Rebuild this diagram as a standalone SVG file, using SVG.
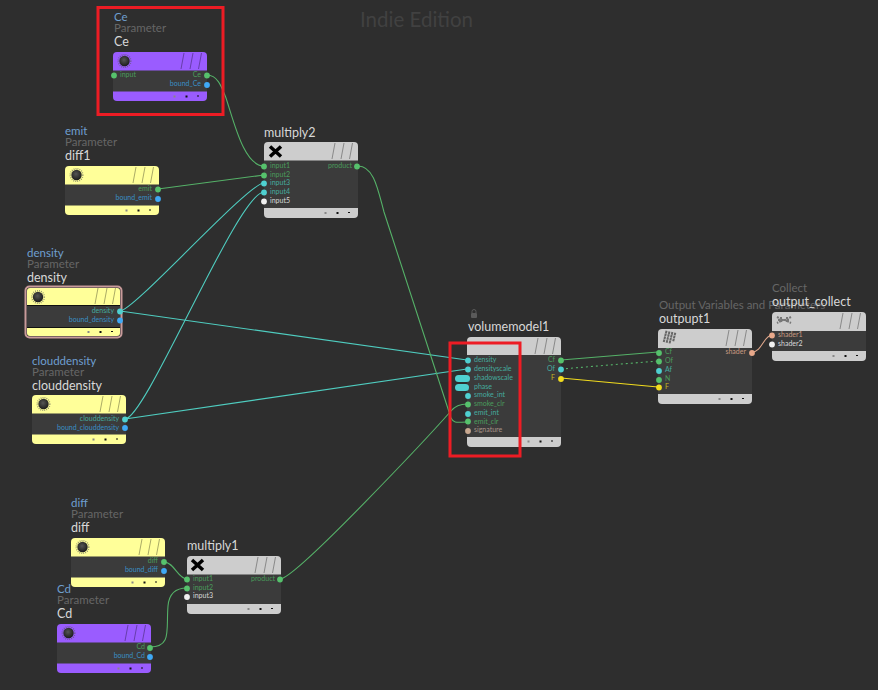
<svg xmlns="http://www.w3.org/2000/svg" width="878" height="690" viewBox="0 0 878 690">
<style>
text{font-family:"Lato","Noto Sans","Liberation Sans",sans-serif}
.bg{fill:#2e2e2e}
.wm{font-size:20.500px;fill:#414141;text-anchor:middle}
.t{font-size:11.500px;fill:#6f9fd0}
.s{font-size:11.500px;fill:#666}
.n{font-size:12.500px;fill:#d8d8d8}
.p{font-size:7px}
.e{text-anchor:end}
.body{fill:#3b3b3b}
.gl{stroke:#000;stroke-opacity:.42;stroke-width:.8;fill:none}
.w{stroke:#55b168;fill:none;stroke-width:1.100}
.c{stroke:#4fcdc0;fill:none;stroke-width:1.100}
.g{fill:#56c16c}.gt{fill:#4a9c5c}
.cy{fill:#4fd0d0}.cyt{fill:#45ab9f}
.b{fill:#3fa9f5}.bt{fill:#3a8fc4}
.wh{fill:#f0f0f0}.wt{fill:#d8d8d8}
.d1{fill:#888}.d2{fill:#111}
.red{fill:none;stroke:#ed1c24;stroke-width:3}
circle[class],circle[fill^="#"]{r:2.900px}
</style>
<defs>
<g id="lines"><path class="gl" d="M71 1l-3 16M80 1l-3 16M88.500 1l-3 16"/></g>
<g id="dots"><rect class="d1" x="60.500" y="-.5" width="2" height="2"/><rect class="d2" x="72.500" y="-.5" width="2" height="2"/><rect class="d2" x="84" y="-.5" width="2" height="1"/></g>
<radialGradient id="kg" cx=".45" cy=".4" r=".6"><stop offset="0" stop-color="#555"/><stop offset="1" stop-color="#1c1c1c"/></radialGradient>
<g id="knob"><ellipse rx="6.300" ry="6.300" fill="none" stroke="#555" stroke-width="1.500" stroke-dasharray=".8 1.200" opacity=".7"/><ellipse rx="5.200" ry="5.200" fill="url(#kg)"/></g>
<g id="x"><path d="M-5.500-5L5.500 5M5.500-5L-5.500 5" stroke="#000" stroke-width="3.500"/></g>
<g id="flag"><g transform="rotate(14)" fill="none" stroke="#666" stroke-width="2.600" stroke-dasharray="2 1"><path d="M-6-4.500H6"/><path d="M-6-1.500H6"/><path d="M-6 1.500H6"/><path d="M-6 4.500H2"/></g></g>
<g id="flag2"><g fill="none" stroke="#777" stroke-width="2" stroke-dasharray="2 1"><path d="M-7-3L-1 0L-7 3"/><path d="M7-3L1 0L7 3"/><path d="M-6 0H6"/><path d="M-3-3V3M3-3V3"/></g></g>
<g id="pnode">
<rect width="94" height="49" rx="4" fill="currentColor"/>
<rect y="18.500" width="94" height="21" class="body"/>
<use href="#lines"/>
<use href="#knob" x="11.500" y="9"/>
<use href="#dots" y="44"/>
</g>
</defs>
<rect class="bg" width="878" height="690"/>
<text class="wm" x="416.500" y="27">Indie Edition</text>

<g id="connectors">
<path class="w" d="M207 75C218 75 222 88 226 98C234 122 244 166 264 166"/>
<path class="w" d="M158 189L264 175"/>
<path class="c" d="M120 311C134 311 248 183 264 183"/>
<path class="c" d="M125 419C146 419 238 192 264 192"/>
<path class="c" d="M120 311L467 360"/>
<path class="c" d="M125 419L467 369"/>
<path class="w" d="M358 166C374 166 378 190 384 212L451 418C454 424 458 422 467 422"/>
<path class="w" d="M280 579C296 579 436 428 451 411C455 406 460 404 467 404"/>
<path class="w" d="M164 562C174 562 178 579 187 579"/>
<path class="w" d="M150 647C172 647 166 630 168 606C169 594 176 588 187 588"/>
<path class="w" d="M561 360L658 352"/>
<path class="w" stroke-dasharray="2 3" d="M561 369L658 361"/>
<path stroke="#f2dc1e" stroke-width="1.100" fill="none" d="M561 378L658 387"/>
<path stroke="#e0a88c" stroke-width="1.100" fill="none" d="M752 352C762 352 764 335 772 335"/>
</g>

<g id="node-ce" color="#9a5cff">
<text class="t" x="114" y="21">Ce</text><text class="s" x="114" y="32">Parameter</text><text class="n" x="114" y="46">Ce</text>
<use href="#pnode" x="113" y="52"/>
<text class="p gt" x="120" y="77">input</text><text class="p gt e" x="201" y="77">Ce</text><text class="p bt e" x="201" y="86">bound_Ce</text>
<circle class="g" cx="114" cy="75.500" r="2.900"/><circle class="g" cx="207" cy="75.500" r="2.900"/><circle class="b" cx="207" cy="85" r="2.900"/>
</g>

<g id="node-emit" color="#ffff99">
<text class="t" x="65" y="135">emit</text><text class="s" x="65" y="146">Parameter</text><text class="n" x="65" y="160">diff1</text>
<use href="#pnode" x="65" y="166"/>
<text class="p gt e" x="152" y="191">emit</text><text class="p bt e" x="152" y="200">bound_emit</text>
<circle class="g" cx="158" cy="189.500" r="2.900"/><circle class="b" cx="158" cy="199" r="2.900"/>
</g>

<g id="node-density" color="#ffff99">
<text class="t" x="27" y="257">density</text><text class="s" x="27" y="268">Parameter</text><text class="n" x="27" y="282">density</text>
<rect x="25.500" y="286.500" width="96" height="51" rx="4" fill="none" stroke="#c89a9a" stroke-width="2"/>
<rect x="27" y="288" width="93" height="48" rx="3" fill="#ffff99"/>
<rect x="27" y="305" width="93" height="22" class="body"/>
<path d="M27 305.500H120M27 327.500H120" stroke="#111"/>
<use href="#lines" x="27" y="287"/><use href="#knob" x="38" y="297"/><use href="#dots" x="27" y="331.500"/>
<text class="p cyt e" x="114" y="313">density</text><text class="p bt e" x="114" y="322">bound_density</text>
<circle class="cy" cx="120" cy="311.500" r="2.900"/><circle class="b" cx="120" cy="320.500" r="2.900"/>
</g>

<g id="node-clouddensity" color="#ffff99">
<text class="t" x="32" y="365">clouddensity</text><text class="s" x="32" y="376">Parameter</text><text class="n" x="32" y="390">clouddensity</text>
<use href="#pnode" x="32" y="395"/>
<text class="p cyt e" x="119" y="421">clouddensity</text><text class="p bt e" x="119" y="430">bound_clouddensity</text>
<circle class="cy" cx="125" cy="419.500" r="2.900"/><circle class="b" cx="125" cy="428" r="2.900"/>
</g>

<g id="node-diff" color="#ffff99">
<text class="t" x="71" y="507">diff</text><text class="s" x="71" y="518">Parameter</text><text class="n" x="71" y="532">diff</text>
<use href="#pnode" x="71" y="538"/>
<text class="p gt e" x="158" y="563">diff</text><text class="p bt e" x="158" y="572">bound_diff</text>
<circle class="g" cx="164" cy="562" r="2.900"/><circle class="b" cx="164" cy="571" r="2.900"/>
</g>

<g id="node-cd" color="#9a5cff">
<text class="t" x="57" y="593">Cd</text><text class="s" x="57" y="604">Parameter</text><text class="n" x="57" y="618">Cd</text>
<use href="#pnode" x="57" y="624"/>
<text class="p gt e" x="145" y="649">Cd</text><text class="p bt e" x="145" y="658">bound_Cd</text>
<circle class="g" cx="150" cy="648" r="2.900"/><circle class="b" cx="150" cy="657" r="2.900"/>
</g>

<g id="node-multiply2">
<text class="n" x="264" y="137">multiply2</text>
<rect x="264" y="142" width="94" height="76" rx="4" fill="#cdcdcd"/>
<rect x="264" y="160.500" width="94" height="47.500" class="body"/>
<use href="#lines" x="264" y="142"/><use href="#x" x="275.500" y="151.500"/><use href="#dots" x="264" y="212.500"/>
<text class="p gt" x="270" y="168">input1</text><text class="p gt" x="270" y="177">input2</text><text class="p cyt" x="270" y="185">input3</text><text class="p cyt" x="270" y="194">input4</text><text class="p wt" x="270" y="203">input5</text>
<text class="p gt e" x="352" y="168">product</text>
<circle class="g" cx="264" cy="166.500" r="2.900"/><circle class="g" cx="264" cy="175.500" r="2.900"/><circle class="cy" cx="264" cy="183.500" r="2.900"/><circle class="cy" cx="264" cy="192.500" r="2.900"/><circle class="wh" cx="264" cy="201.500" r="2.900"/><circle class="g" cx="357" cy="166.500" r="2.900"/>
</g>

<g id="node-multiply1">
<text class="n" x="187" y="550">multiply1</text>
<rect x="187" y="556" width="94" height="58" rx="4" fill="#cdcdcd"/>
<rect x="187" y="574.500" width="94" height="29.500" class="body"/>
<use href="#lines" x="187" y="556"/><use href="#x" x="197.500" y="565"/><use href="#dots" x="187" y="608.500"/>
<text class="p gt" x="193" y="581">input1</text><text class="p gt" x="193" y="590">input2</text><text class="p wt" x="193" y="598">input3</text>
<text class="p gt e" x="275" y="581">product</text>
<circle class="g" cx="187" cy="579.500" r="2.900"/><circle class="g" cx="187" cy="588.500" r="2.900"/><circle class="wh" cx="187" cy="597" r="2.900"/><circle class="g" cx="280" cy="579.500" r="2.900"/>
</g>

<g id="node-volumemodel1">
<rect x="471" y="313" width="6" height="5" rx="1" fill="#5a5a5a"/><path d="M472 313v-1.500a2 2 0 0 1 4 0v1.500" fill="none" stroke="#5a5a5a"/>
<text class="n" x="468" y="331">volumemodel1</text>
<rect x="467" y="337" width="94" height="110" rx="4" fill="#cdcdcd"/>
<rect x="467" y="355" width="94" height="82" class="body"/>
<use href="#lines" x="467" y="337"/><use href="#dots" x="467" y="441"/>
<text class="p cyt" x="474" y="362">density</text><text class="p cyt" x="474" y="371">densityscale</text><text class="p cyt" x="474" y="380">shadowscale</text><text class="p cyt" x="474" y="389">phase</text><text class="p cyt" x="474" y="397">smoke_int</text><text class="p gt" x="474" y="406">smoke_clr</text><text class="p cyt" x="474" y="415">emit_int</text><text class="p gt" x="474" y="424">emit_clr</text><text class="p" fill="#a89488" x="474" y="432">signature</text>
<text class="p gt e" x="555" y="362">Cf</text><text class="p cyt e" x="555" y="371">Of</text><text class="p e" fill="#c8b820" x="555" y="380">F</text>
<circle class="cy" cx="468" cy="360.500" r="2.900"/><circle class="cy" cx="468" cy="369.500" r="2.900"/>
<rect x="455" y="375" width="15" height="7" rx="3.500" fill="#4fd0d0"/><rect x="455" y="384" width="14" height="7" rx="3.500" fill="#4fd0d0"/>
<circle class="cy" cx="468" cy="396" r="2.900"/><circle class="g" cx="468" cy="404.500" r="2.900"/><circle class="cy" cx="468" cy="414" r="2.900"/><circle class="g" cx="468" cy="421.500" r="2.900"/><circle fill="#c8a890" cx="468" cy="431" r="2.900"/>
<circle class="g" cx="561" cy="360.500" r="2.900"/><circle class="cy" cx="561" cy="369.500" r="2.900"/><circle fill="#f2dc1e" cx="561" cy="379" r="2.900"/>
</g>

<g id="node-outputpt1">
<text class="s" x="659" y="309">Output Variables and Parameters</text>
<text class="n" x="659" y="323">outpupt1</text>
<rect x="658" y="329" width="94" height="75" rx="4" fill="#cdcdcd"/>
<rect x="658" y="348" width="94" height="46" class="body"/>
<use href="#lines" x="658" y="329"/><use href="#flag" x="670" y="337.500"/><use href="#dots" x="658" y="398.500"/>
<text class="p gt" x="665" y="354">Cf</text><text class="p gt" x="665" y="363">Of</text><text class="p cyt" x="665" y="372">Af</text><text class="p gt" x="665" y="381">N</text><text class="p" fill="#c8b820" x="665" y="389">F</text>
<text class="p e" fill="#c89a80" x="746" y="354">shader</text>
<circle class="g" cx="659" cy="353" r="2.900"/><circle class="g" cx="659" cy="361.500" r="2.900"/><circle class="cy" cx="659" cy="371" r="2.900"/><circle class="g" cx="659" cy="380" r="2.900"/><circle fill="#f2dc1e" cx="659" cy="387.500" r="2.900"/>
<circle fill="#e8a88a" cx="752" cy="353" r="2.900"/>
</g>

<g id="node-output-collect">
<text class="s" x="772" y="292">Collect</text>
<text class="n" x="772" y="306">output_collect</text>
<rect x="772" y="312" width="94" height="49" rx="4" fill="#cdcdcd"/>
<rect x="772" y="331" width="94" height="20" class="body"/>
<use href="#lines" x="772" y="312"/><use href="#flag2" x="784" y="320"/><use href="#dots" x="772" y="355.500"/>
<text class="p" fill="#c89a80" x="778" y="337">shader1</text><text class="p wt" x="778" y="346">shader2</text>
<circle fill="#e8a88a" cx="772" cy="335.500" r="2.900"/><circle class="wh" cx="772" cy="344.500" r="2.900"/>
</g>

<rect class="red" x="98" y="7.500" width="125" height="107"/>
<rect class="red" x="450" y="343" width="70" height="113"/>
</svg>
